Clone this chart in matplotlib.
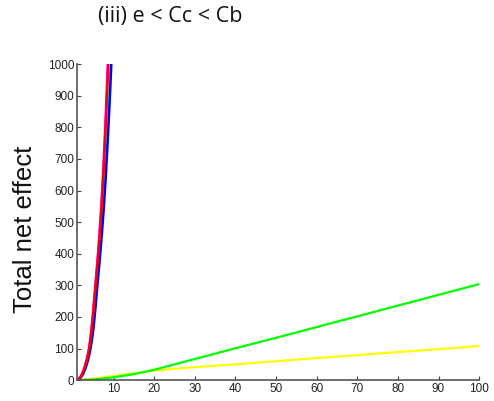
import numpy as np
import matplotlib
matplotlib.use("Agg")
import matplotlib.pyplot as plt

# Steep curves (x in steps of 0.5)
x_steep = [1, 1.5, 2, 2.5, 3, 3.5, 4, 4.5, 5, 5.5, 6, 6.5, 7, 7.5, 8, 8.5, 9, 9.5]
magenta = [0, 5, 14, 28, 48, 72, 105, 155, 225, 300, 375, 460, 560, 680, 820, 980, 1150, 1330]
red     = [0, 5, 13, 26, 45, 68, 100, 150, 215, 290, 365, 445, 540, 655, 790, 940, 1110, 1290]
cyan    = [0, 4, 11, 22, 38, 58, 84, 120, 170, 240, 315, 390, 470, 560, 665, 785, 920, 1070]
blue    = [0, 4, 10, 20, 35, 55, 80, 115, 160, 225, 300, 370, 445, 530, 630, 745, 875, 1020]

# Slow curves
x_slow = [1, 5, 10, 15, 20, 25, 30, 40, 50, 60, 70, 80, 90, 100]
green  = [0, 2, 9, 19, 33, 50, 67, 101, 134, 168, 202, 236, 270, 304]
yellow = [0, 5, 13, 22, 30, 36, 41, 50, 60, 70, 79, 89, 98, 108]

x_ticks = [10, 20, 30, 40, 50, 60, 70, 80, 90, 100]
y_ticks = [0, 100, 200, 300, 400, 500, 600, 700, 800, 900, 1000]

fig = plt.figure(figsize=(4.94, 4.01), dpi=100)
ax = fig.add_axes([0.156, 0.052, 0.814, 0.788])

ax.plot(x_slow, yellow, color="#ffff00", lw=1.6)
ax.plot(x_slow, green, color="#00ff00", lw=1.6)
ax.plot(x_steep, magenta, color="#ff00ff", lw=1.8)
ax.plot(x_steep, cyan, color="#00ffff", lw=1.8)
ax.plot(x_steep, blue, color="#0000ff", lw=1.8)
ax.plot(x_steep, red, color="#ff0000", lw=1.8)

ax.set_xlim(1, 100)
ax.set_ylim(0, 1000)
ax.set_xticks(x_ticks)
ax.set_yticks(y_ticks)
ax.tick_params(direction="in", length=3, width=0.8, colors="#404040",
               labelsize=8.5, labelcolor="#222222", pad=2)
for lab in ax.get_xticklabels() + ax.get_yticklabels():
    lab.set_family("Liberation Sans")

for side in ("top", "right"):
    ax.spines[side].set_visible(False)
for side in ("left", "bottom"):
    ax.spines[side].set_color("#555555")
    ax.spines[side].set_linewidth(1.2)

fig.text(0.051, 0.427, "Total net effect", rotation=90, ha="center", va="center",
         fontsize=18.5, family="Liberation Sans", color="#111111")
fig.text(0.345, 0.958, "(iii) e < Cc < Cb", ha="center", va="center",
         fontsize=15.5, family="Open Sans", color="#111111")

fig.savefig("out.png", dpi=100)
